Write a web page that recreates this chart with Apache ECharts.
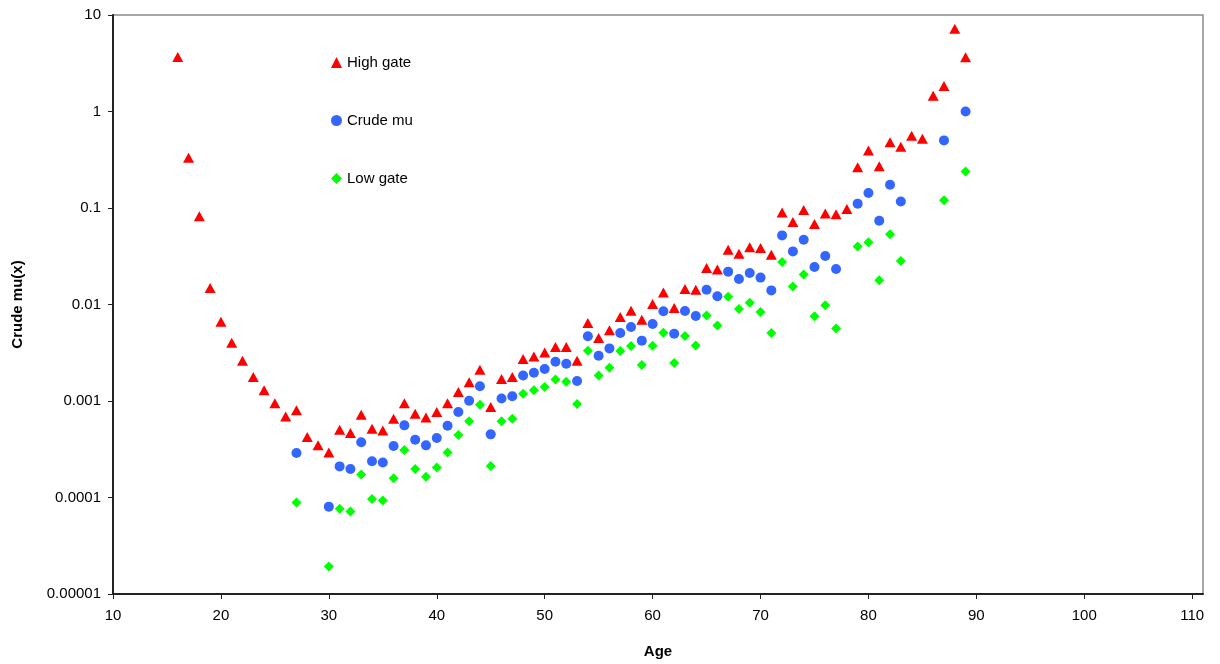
<!DOCTYPE html>
<html>
<head>
<meta charset="utf-8">
<script src="https://cdn.jsdelivr.net/npm/echarts@6/dist/echarts.min.js"></script>
<style>
html,body{margin:0;padding:0;background:#fff;}
#chart{width:1220px;height:664px;}
</style>
</head>
<body>
<div id="chart"></div>
<script>
// ---- Data ----
const highAges = [16,17,18,19,20,21,22,23,24,25,26,27,28,29,30,31,32,33,34,35,36,37,38,39,40,41,42,43,44,45,46,47,48,49,50,51,52,53,54,55,56,57,58,59,60,61,62,63,64,65,66,67,68,69,70,71,72,73,74,75,76,77,78,79,80,81,82,83,84,85,86,87,88,89];
const highVals = [3.67,0.332,0.0819,0.0148,0.00664,0.00402,0.00261,0.00177,0.00129,0.00095,0.00069,0.0008,0.000424,0.000347,0.000293,0.000505,0.000466,0.000721,0.000516,0.000496,0.000656,0.00095,0.000738,0.000676,0.00077,0.00095,0.00124,0.00156,0.00211,0.000867,0.00169,0.00177,0.00272,0.0029,0.00319,0.00363,0.00363,0.00262,0.00643,0.0045,0.0054,0.00741,0.00863,0.00695,0.0101,0.0133,0.0092,0.0145,0.0142,0.0239,0.023,0.037,0.0336,0.0391,0.0385,0.0328,0.09,0.0716,0.0953,0.0682,0.0879,0.0859,0.0977,0.264,0.395,0.27,0.479,0.432,0.561,0.522,1.46,1.84,7.21,3.64];

const crudeAges = [27,30,31,32,33,34,35,36,37,38,39,40,41,42,43,44,45,46,47,48,49,50,51,52,53,54,55,56,57,58,59,60,61,62,63,64,65,66,67,68,69,70,71,72,73,74,75,76,77,79,80,81,82,83,87,89];
const crudeVals = [0.000289,0.0000804,0.00021,0.000197,0.000373,0.000237,0.000231,0.000342,0.000559,0.000397,0.000347,0.000414,0.000555,0.00077,0.001007,0.00142,0.000451,0.00106,0.00112,0.00184,0.00196,0.00215,0.00255,0.00243,0.00161,0.00468,0.00295,0.00351,0.00507,0.00585,0.00422,0.00628,0.0085,0.00498,0.00857,0.0076,0.0142,0.0122,0.0219,0.0184,0.0212,0.019,0.014,0.052,0.0355,0.0469,0.0245,0.0318,0.0233,0.111,0.143,0.0737,0.174,0.117,0.502,1.0];

const lowAges = crudeAges;
const lowVals = [0.0000889,0.0000193,0.0000766,0.0000718,0.000173,0.0000964,0.0000933,0.000158,0.00031,0.000197,0.000164,0.000204,0.000293,0.000445,0.000615,0.000916,0.000212,0.000615,0.000656,0.00119,0.00129,0.0014,0.00167,0.00158,0.00093,0.00332,0.00184,0.00221,0.0033,0.00371,0.00236,0.00374,0.0051,0.00248,0.00472,0.00377,0.0077,0.00607,0.012,0.00898,0.01045,0.00835,0.00506,0.0276,0.0154,0.0205,0.00754,0.0098,0.00565,0.0399,0.0441,0.0178,0.0533,0.0282,0.12,0.239];

const xTickLabels = ['10','20','30','40','50','60','70','80','90','100','110'];
const yTickLabels = ['0.00001','0.0001','0.001','0.01','0.1','1','10'];

const seriesNames = ['High gate','Crude mu','Low gate'];

// ---- Chart ----
const pairs = (a, v) => a.map((x, i) => [x, v[i]]);
const FONT = 'Liberation Sans, Arial, sans-serif';

const chart = echarts.init(document.getElementById('chart'), null, {renderer: 'canvas'});
chart.setOption({
  backgroundColor: '#ffffff',
  animation: false,
  grid: {
    left: 113, right: 17, top: 15, bottom: 70,
    show: true, borderColor: '#8c8c8c', borderWidth: 1.5, backgroundColor: '#ffffff'
  },
  legend: {
    orient: 'vertical',
    left: 326, top: 50,
    itemWidth: 11, itemHeight: 11,
    itemGap: 43,
    textStyle: {fontFamily: FONT, fontSize: 15, color: '#000'},
    data: seriesNames
  },
  xAxis: {
    type: 'value', min: 10, max: 111, interval: 10,
    name: 'Age', nameLocation: 'middle', nameGap: 50,
    nameTextStyle: {fontFamily: FONT, fontSize: 15, fontWeight: 'bold', color: '#000'},
    axisLine: {show: true, lineStyle: {color: '#222', width: 2}},
    axisTick: {show: true, length: 5, lineStyle: {color: '#222', width: 1}},
    axisLabel: {
      fontFamily: FONT, fontSize: 15, color: '#000', margin: 14,
      showMaxLabel: false,
      formatter: v => { const i = Math.round((v - 10) / 10); return (Math.abs(v - (10 + i*10)) < 1e-6 && xTickLabels[i]) ? xTickLabels[i] : ''; }
    },
    splitLine: {show: false}
  },
  yAxis: {
    type: 'log', logBase: 10, min: 0.00001, max: 10,
    name: 'Crude mu(x)', nameLocation: 'middle', nameGap: 88,
    nameTextStyle: {fontFamily: FONT, fontSize: 15, fontWeight: 'bold', color: '#000'},
    axisLine: {show: true, lineStyle: {color: '#222', width: 2}},
    axisTick: {show: true, length: 5, lineStyle: {color: '#222', width: 1}},
    axisLabel: {
      fontFamily: FONT, fontSize: 15, color: '#000', margin: 12,
      formatter: v => { const e = Math.round(Math.log10(v)); return yTickLabels[e + 5] || ''; }
    },
    splitLine: {show: false}
  },
  series: [
    {name: seriesNames[0], type: 'scatter', symbol: 'triangle', symbolSize: [11, 10],
     itemStyle: {color: '#ff0000', opacity: 1}, data: pairs(highAges, highVals)},
    {name: seriesNames[1], type: 'scatter', symbol: 'circle', symbolSize: 10,
     itemStyle: {color: '#3366ff', opacity: 1}, data: pairs(crudeAges, crudeVals)},
    {name: seriesNames[2], type: 'scatter', symbol: 'diamond', symbolSize: 10,
     itemStyle: {color: '#00ff00', opacity: 1}, data: pairs(lowAges, lowVals)}
  ]
});
</script>
</body>
</html>
